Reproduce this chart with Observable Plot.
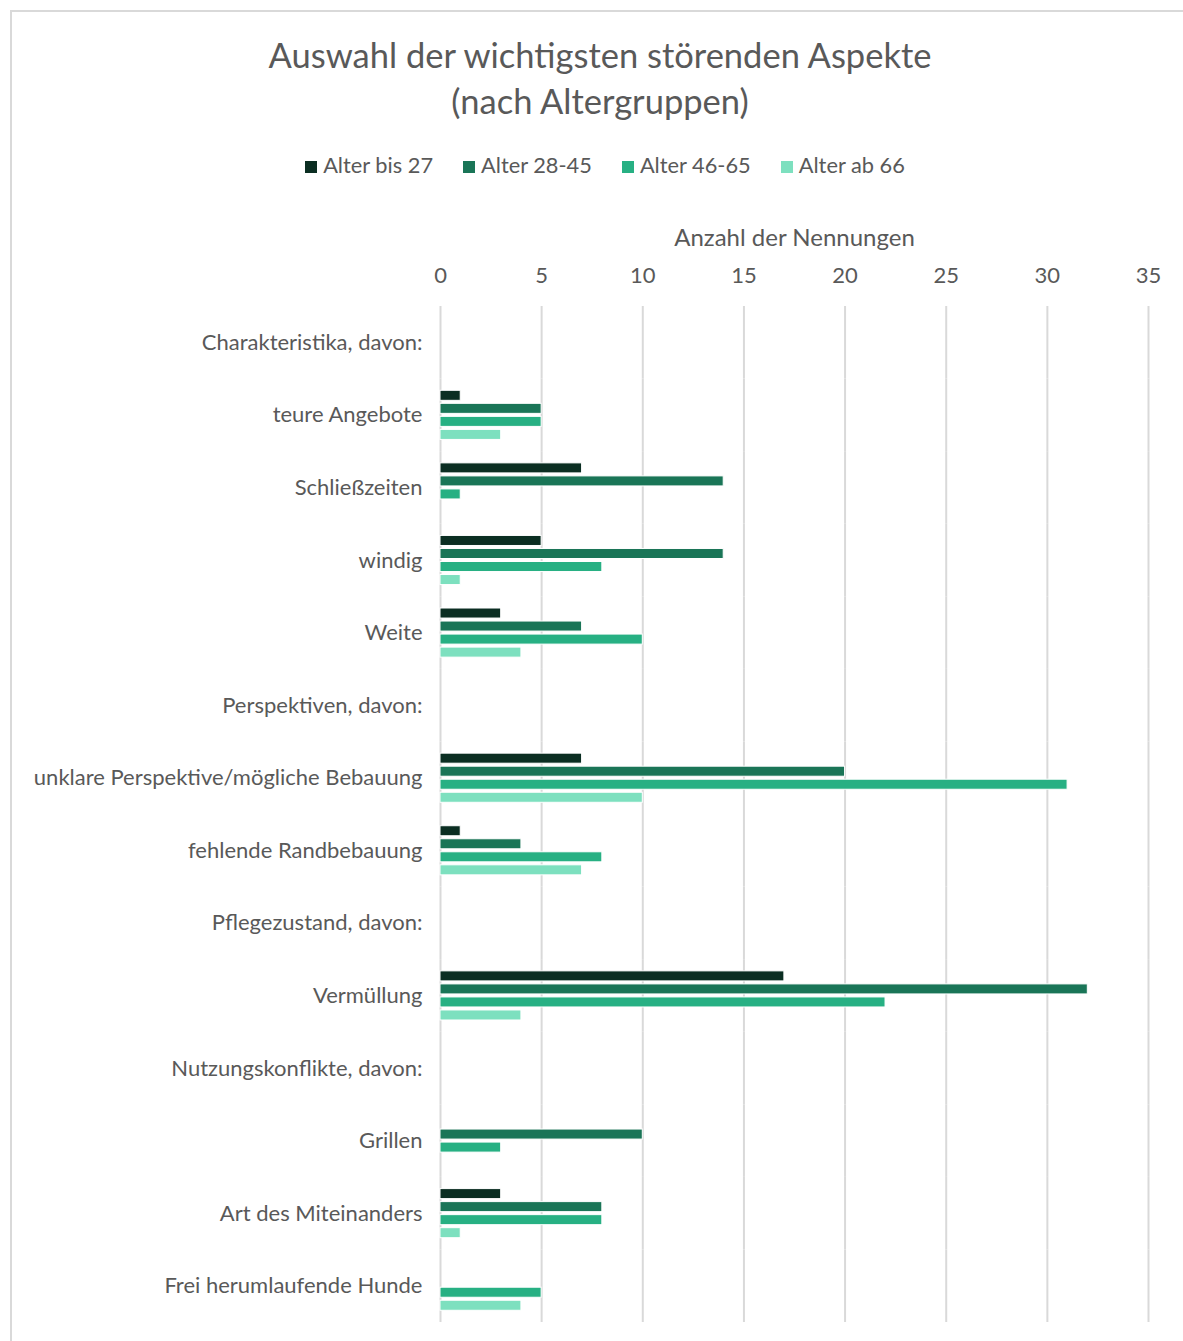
<!DOCTYPE html>
<html><head><meta charset="utf-8">
<script src="https://cdn.jsdelivr.net/npm/d3@7"></script>
<script src="https://cdn.jsdelivr.net/npm/@observablehq/plot@0.6"></script>
<style>
body{margin:0;background:#fff;font-family:Lato, sans-serif;color:#595959;}
#frame{position:absolute;left:10px;top:10px;width:1190px;height:1400px;border:2px solid #d9d9d9;box-sizing:border-box;}
#title{position:absolute;left:0;width:1200px;top:32px;text-align:center;font-size:34.5px;line-height:46px;}
#legend{position:absolute;left:0;width:1210px;top:151px;display:flex;justify-content:center;gap:30px;font-size:21.8px;line-height:28px;}
#legend span.sw{display:inline-block;width:12px;height:12px;margin-right:6px;vertical-align:0px;}
#chart{position:absolute;left:0;top:198px;}
</style></head>
<body>
<div id="frame"></div>
<div id="title">Auswahl der wichtigsten störenden Aspekte<br>(nach Altergruppen)</div>
<div id="legend"></div>
<div id="chart"></div>
<script>
const categories = [
  "Charakteristika, davon:",
  "teure Angebote",
  "Schließzeiten",
  "windig",
  "Weite",
  "Perspektiven, davon:",
  "unklare Perspektive/mögliche Bebauung",
  "fehlende Randbebauung",
  "Pflegezustand, davon:",
  "Vermüllung",
  "Nutzungskonflikte, davon:",
  "Grillen",
  "Art des Miteinanders",
  "Frei herumlaufende Hunde"
];
const series = ["Alter bis 27", "Alter 28-45", "Alter 46-65", "Alter ab 66"];
const colors = ["#0b2e22", "#1a7557", "#27b083", "#7de0bf"];
const bis27   = [0, 1, 7, 5, 3, 0, 7, 1, 0, 17, 0, 0, 3, 0];
const a28_45  = [0, 5, 14, 14, 7, 0, 20, 4, 0, 32, 0, 10, 8, 0];
const a46_65  = [0, 5, 1, 8, 10, 0, 31, 8, 0, 22, 0, 3, 8, 5];
const ab66    = [0, 3, 0, 1, 4, 0, 10, 7, 0, 4, 0, 0, 1, 4];
const xTicks = [0, 5, 10, 15, 20, 25, 30, 35];

const valueSets = [bis27, a28_45, a46_65, ab66];
const data = [];
categories.forEach((c, i) => series.forEach((s, j) => data.push({category: c, series: s, value: valueSets[j][i]})));

// legend
const lg = document.getElementById("legend");
series.forEach((s, j) => {
  const d = document.createElement("div");
  d.innerHTML = `<span class="sw" style="background:${colors[j]}"></span>${s}`;
  lg.appendChild(d);
});

const chart = Plot.plot({
  width: 1183,
  height: 1143,
  marginLeft: 440,
  marginRight: 35,
  marginTop: 108,
  marginBottom: 19,
  style: {fontFamily: "Lato, sans-serif", fontSize: "22px", color: "#595959", background: "transparent"},
  x: {domain: [0, 35], ticks: xTicks},
  y: {domain: series, paddingInner: 0.23, paddingOuter: 0.9, round: false, axis: null},
  fy: {domain: categories, padding: 0, round: false, label: null},
  color: {domain: series, range: colors},
  facet: {data, y: "category"},
  marks: [
    Plot.ruleX(xTicks, {stroke: "#d9d9d9", strokeOpacity: 1, strokeWidth: 2}),
    Plot.axisX(xTicks, {anchor: "top", tickSize: 0, tickPadding: 24, fontSize: 22, label: null}),
    Plot.text(["Anzahl der Nennungen"], {frameAnchor: "top", dy: -78, fontSize: 24, fill: "#595959", facet: "super"}),
    Plot.axisFy({anchor: "left", tickSize: 0, tickPadding: 18, fontSize: 22, label: null}),
    Plot.barX(data, {x: "value", y: "series", fill: "series", stroke: "white", strokeWidth: 1})
  ]
});
document.getElementById("chart").appendChild(chart);
</script>
</body></html>
